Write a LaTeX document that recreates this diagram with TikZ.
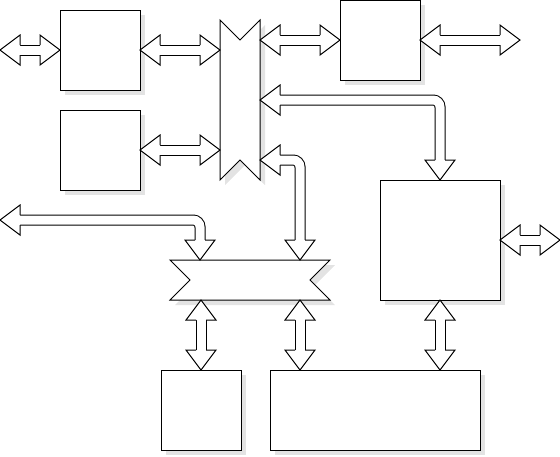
\documentclass[tikz,border=0pt]{standalone}
\usetikzlibrary{calc}
\tikzset{
 x=1pt,y=-1pt,
 shade5/.style={preaction={fill=black!11, draw=none, transform canvas={shift={(5pt,-5pt)}}}},
 blk/.style={draw=black, line width=1pt, fill=white, inner sep=0pt, outer sep=0pt, shade5},
 ghost/.style={inner sep=0pt, outer sep=0pt, draw=none},
 busshape/.style={draw=black, line width=1pt, fill=white, line join=miter, shade5},
 shaft/.style={draw=black, double=white, double distance=9pt, line width=1pt, shorten <=19pt, shorten >=19pt, rounded corners=7pt},
 head/.style={fill=white, draw=black, line width=1pt, line join=miter},
}
\newcommand\fhead[2]{\begin{scope}[shift={(#1)}, rotate=#2]\filldraw[head] (-20,5) -- (-20,15) -- (0,0) -- (-20,-15) -- (-20,-5);\end{scope}}
\begin{document}
\begin{tikzpicture}
\useasboundingbox (0,0) rectangle (560,456);
% boxes
\node[blk, minimum width=80pt, minimum height=80pt] (A) at (100,50) {};
\node[blk, minimum width=80pt, minimum height=80pt] (B) at (100,150) {};
\node[blk, minimum width=80pt, minimum height=80pt] (C) at (380,40) {};
\node[blk, minimum width=120pt, minimum height=120pt] (D) at (440,240) {};
\node[blk, minimum width=80pt, minimum height=80pt] (E) at (201,410) {};
\node[blk, minimum width=210pt, minimum height=80pt] (F) at (375,410) {};
% buses
\node[ghost, minimum width=40pt, minimum height=160pt] (V) at (240,100) {};
\draw[busshape] (V.north west) -- ($(V.north)+(0,20)$) -- (V.north east) -- (V.south east) -- ($(V.south)+(0,-20)$) -- (V.south west) -- cycle;
\node[ghost, minimum width=160pt, minimum height=40pt] (H) at (250,280) {};
\draw[busshape] (H.north west) -- (H.north east) -- ($(H.east)+(-20,0)$) -- (H.south east) -- (H.south west) -- ($(H.west)+(20,0)$) -- cycle;
% free ends and bend points
\coordinate (L1) at (0,50);
\coordinate (R0) at (520,40);
\coordinate (L2) at (0,220);
\coordinate (R1) at (560,240);
\coordinate (A2) at (A.east -| V.west);
\coordinate (B2) at (B.east -| V.west);
\coordinate (C2) at (C.west -| V.east);
\coordinate (V2) at ($(V.south east)+(0,-20)$);
\coordinate (H1) at ($(H.north)+(50,0)$);
\coordinate (H2) at ($(H.north)+(-50,0)$);
\coordinate (H3) at (E.north |- H.south);
\coordinate (H4) at ($(H.south)+(50,0)$);
\coordinate (F1) at (H4 |- F.north);
\coordinate (D1) at (D.south |- F.north);
% arrows
\draw[shaft] (A.west) -- (L1); \fhead{L1}{180}\fhead{A.west}{0}
\draw[shaft] (A.east) -- (A2); \fhead{A.east}{180}\fhead{A2}{0}
\draw[shaft] (B.east) -- (B2); \fhead{B.east}{180}\fhead{B2}{0}
\draw[shaft] (C2) -- (C.west); \fhead{C2}{180}\fhead{C.west}{0}
\draw[shaft] (C.east) -- (R0); \fhead{C.east}{180}\fhead{R0}{0}
\draw[shaft] (V.east) -- (V.east -| D.north) -- (D.north); \fhead{V.east}{180}\fhead{D.north}{-90}
\draw[shaft] (V2) -- (V2 -| H1) -- (H1); \fhead{V2}{180}\fhead{H1}{-90}
\draw[shaft] (H2) -- (H2 |- L2) -- (L2); \fhead{H2}{-90}\fhead{L2}{180}
\draw[shaft] (D.east) -- (R1); \fhead{D.east}{180}\fhead{R1}{0}
\draw[shaft] (H3) -- (E.north); \fhead{H3}{90}\fhead{E.north}{-90}
\draw[shaft] (H4) -- (F1); \fhead{H4}{90}\fhead{F1}{-90}
\draw[shaft] (D.south) -- (D1); \fhead{D.south}{90}\fhead{D1}{-90}
\end{tikzpicture}
\end{document}
